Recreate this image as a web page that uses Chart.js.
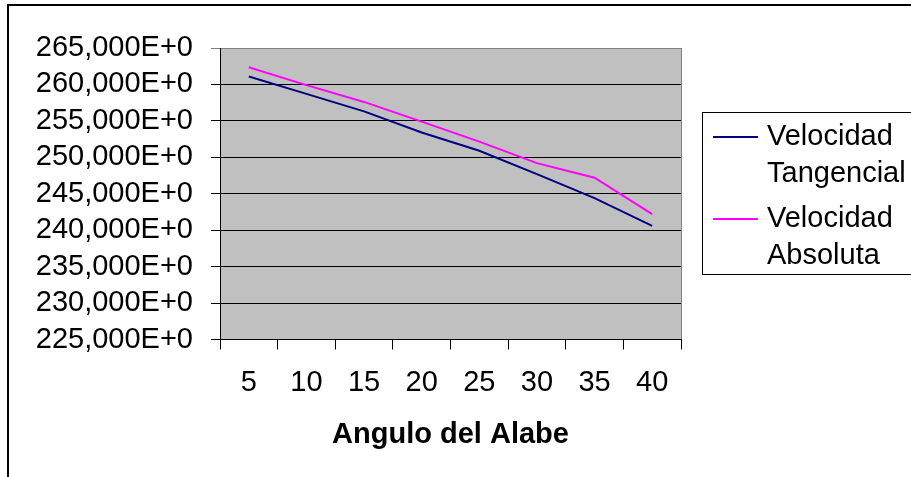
<!DOCTYPE html>
<html>
<head>
    <meta charset="utf-8">
    <title>Angulo del Alabe</title>
    <style>
        html, body { margin: 0; padding: 0; background: #fff; }
        canvas { display: block; }
    </style>
</head>
<body>
<canvas id="velChart" width="911" height="477"></canvas>

<script src="https://cdn.jsdelivr.net/npm/chart.js"></script>
<script>
    // datos del gráfico
    const angulos = ['5', '10', '15', '20', '25', '30', '35', '40'];
    const velTangencial = [261.1, 258.7, 256.3, 253.4, 250.9, 247.7, 244.4, 240.6];
    const velAbsoluta = [262.35, 259.9, 257.6, 254.9, 252.15, 249.2, 247.2, 242.2];
    const seriesNames = ['Velocidad Tangencial', 'Velocidad Absoluta'];
    const yTickLabels = ['225,000E+0', '230,000E+0', '235,000E+0', '240,000E+0',
        '245,000E+0', '250,000E+0', '255,000E+0', '260,000E+0', '265,000E+0'];

    const FONT = "'Liberation Sans', Arial, sans-serif";

    // fondo gris del area de trazado + marco exterior
    const plotBg = {
        id: 'plotBg',
        beforeDraw(chart) {
            const c = chart.ctx, a = chart.chartArea;
            c.save();
            c.fillStyle = '#fff';
            c.fillRect(0, 0, chart.width, chart.height);
            c.strokeStyle = '#000';
            c.lineWidth = 2;
            c.strokeRect(8, 5, chart.width + 20, chart.height + 20);
            c.fillStyle = '#c0c0c0';
            c.fillRect(a.left, a.top, a.right - a.left, a.bottom - a.top);
            c.strokeStyle = '#808080';
            c.lineWidth = 1;
            c.beginPath();
            c.moveTo(a.right + 0.5, a.top);
            c.lineTo(a.right + 0.5, a.bottom);
            c.stroke();
            c.restore();
        }
    };

    // leyenda dibujada a mano (etiquetas en dos lineas)
    const boxLegend = {
        id: 'boxLegend',
        afterDraw(chart) {
            const c = chart.ctx;
            c.save();
            c.strokeStyle = '#000';
            c.lineWidth = 1;
            c.strokeRect(702.5, 112.5, 220, 162);
            c.font = '29px ' + FONT;
            c.textBaseline = 'middle';
            c.fillStyle = '#000';
            const rows = [137, 219];
            chart.data.datasets.forEach((ds, i) => {
                const y = rows[i];
                c.strokeStyle = ds.borderColor;
                c.lineWidth = 2;
                c.beginPath();
                c.moveTo(713, y);
                c.lineTo(758, y);
                c.stroke();
                ds.label.split(' ').forEach((w, j) => {
                    c.fillText(w, 767, y + j * 37);
                });
            });
            c.restore();
        }
    };

    const ctx = document.getElementById('velChart').getContext('2d');
    new Chart(ctx, {
        type: 'line',
        data: {
            labels: angulos,
            datasets: [
                {
                    label: seriesNames[0],
                    data: velTangencial,
                    borderColor: '#000080',
                    borderWidth: 2,
                    pointRadius: 0,
                    tension: 0
                },
                {
                    label: seriesNames[1],
                    data: velAbsoluta,
                    borderColor: '#ff00ff',
                    borderWidth: 2,
                    pointRadius: 0,
                    tension: 0
                }
            ]
        },
        options: {
            responsive: false,
            animation: false,
            layout: { padding: { left: 0, right: 230, top: 48, bottom: 0 } },
            plugins: {
                legend: { display: false },
                tooltip: { enabled: false }
            },
            scales: {
                x: {
                    offset: true,
                    grid: { offset: true, drawOnChartArea: false, tickLength: 10, color: '#000' },
                    border: { color: '#000' },
                    ticks: { color: '#000', padding: 16, maxRotation: 0, autoSkip: false, font: { family: FONT, size: 29 } },
                    title: {
                        display: true,
                        text: 'Angulo del Alabe',
                        color: '#000',
                        padding: { top: 0, bottom: 25 },
                        font: { family: FONT, size: 29, weight: 'bold' }
                    },
                    afterFit: s => { s.height = 137.5; }
                },
                y: {
                    min: 225,
                    max: 265,
                    grid: {
                        tickLength: 9,
                        color: c => (c.tick && c.tick.value === 265) ? '#808080' : '#000'
                    },
                    border: { color: '#000' },
                    ticks: {
                        stepSize: 5,
                        autoSkip: false,
                        color: '#000',
                        padding: 18,
                        font: { family: FONT, size: 29 },
                        callback: (v, i) => yTickLabels[i]
                    },
                    afterFit: s => { s.width = 220; }
                }
            }
        },
        plugins: [plotBg, boxLegend]
    });
</script>
</body>
</html>
